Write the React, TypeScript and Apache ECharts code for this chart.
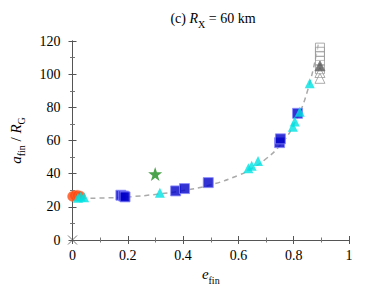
import React, { useEffect, useRef } from "react";
import * as echarts from "echarts";

// Guide curve (e_fin, a_fin/R_G)
const curveE = [0, 0.1, 0.2, 0.3, 0.4, 0.5, 0.6, 0.65, 0.7, 0.75, 0.8, 0.85, 0.89];
const curveA = [25, 25.3, 26, 27.5, 29.8, 33.3, 39, 43.3, 49, 57, 69.4, 90, 119];

const orangeE = [0.0, 0.008, 0.018, 0.028];
const orangeA = [26.3, 26.8, 27.0, 26.5];

const cyanE = [0.02, 0.03, 0.042, 0.316, 0.636, 0.648, 0.671, 0.797, 0.804, 0.822, 0.858];
const cyanA = [25.5, 26.2, 25.8, 28.5, 43.2, 44.8, 47.6, 68.3, 71.4, 77.4, 94.5];

const blueE = [0.175, 0.185, 0.19, 0.373, 0.405, 0.491, 0.749, 0.752, 0.814];
const blueA = [27.0, 26.5, 26.0, 29.6, 31.0, 34.6, 58.7, 61.0, 76.4];

const starE = [0.299];
const starA = [39.8];

const greySqE = [0.895, 0.895, 0.895, 0.895, 0.895];
const greySqA = [116, 113.5, 111, 108, 103];

const greyTriE = [0.895, 0.895];
const greyTriA = [101, 97.5];

const darkTriE = [0.895];
const darkTriA = [105];

const crossE = [0];
const crossA = [0];

const xTicks = ["0", "0.2", "0.4", "0.6", "0.8", "1"];
const yTicks = ["0", "20", "40", "60", "80", "100", "120"];

const zip = (a: number[], b: number[]) => a.map((v, i) => [v, b[i]]);

const STAR =
  "path://M50,0 L61.8,35.1 L98.9,35.1 L68.8,56.8 L80.3,91.9 L50,70.2 L19.7,91.9 L31.2,56.8 L1.1,35.1 L38.2,35.1 Z";
const CROSS = "path://M0,0 L10,10 M10,0 L0,10";

const FONT = "Liberation Serif";

export default function App() {
  const ref = useRef<HTMLDivElement>(null);
  useEffect(() => {
    if (!ref.current) return;
    const chart = echarts.init(ref.current, undefined, { renderer: "svg" });
    const axisLine = { show: true, lineStyle: { color: "#555", width: 1 } };
    const tick = { show: true, inside: true, length: 4, lineStyle: { color: "#555" } };
    const minor = { show: true, splitNumber: 2, length: 2.5, lineStyle: { color: "#777" } };
    const lab = { fontFamily: FONT, fontSize: 14, fontWeight: "normal" as const, color: "#000" };
    const sub = {
      fontFamily: FONT,
      fontSize: 10,
      fontWeight: "normal" as const,
      color: "#000",
      verticalAlign: "bottom" as const,
      lineHeight: 22,
    };
    const it = {
      fontFamily: FONT,
      fontSize: 15,
      fontStyle: "italic" as const,
      fontWeight: "normal" as const,
      color: "#000",
      lineHeight: 22,
    };
    const nm = { fontFamily: FONT, fontSize: 15, fontWeight: "normal" as const, color: "#000", lineHeight: 22 };
    const fmt = (list: string[]) => (v: number) => {
      const s = String(Math.round(v * 100) / 100);
      return list.includes(s) ? "{t|" + s + "}" : "";
    };
    chart.setOption({
      animation: false,
      textStyle: { fontFamily: FONT },
      grid: { left: 68, right: 25, top: 41, bottom: 59 },
      title: {
        text: "{n|(c) }{i|R}{s|X}{n| = 60 km}",
        left: 208,
        top: 2,
        textAlign: "center",
        textStyle: {
          fontFamily: FONT,
          fontWeight: "normal",
          rich: {
            n: { ...nm, fontSize: 14 },
            i: { ...it, fontSize: 14 },
            s: sub,
          },
        },
      },
      xAxis: [
        {
          type: "value",
          min: 0,
          max: 1,
          interval: 0.2,
          axisLine,
          axisTick: tick,
          minorTick: minor,
          splitLine: { show: false },
          axisLabel: {
            fontFamily: FONT,
            margin: 8,
            formatter: fmt(xTicks),
            rich: { t: lab },
          },
          name: "{i|e}{s|fin}",
          nameLocation: "middle",
          nameGap: 17,
          nameTextStyle: { fontFamily: FONT, rich: { i: it, s: sub } },
        },
        {
          type: "value",
          position: "top",
          min: 0,
          max: 1,
          interval: 0.2,
          axisLine,
          axisTick: tick,
          minorTick: minor,
          splitLine: { show: false },
          axisLabel: { show: false },
        },
      ],
      yAxis: [
        {
          type: "value",
          min: 0,
          max: 120,
          interval: 20,
          axisLine,
          axisTick: tick,
          minorTick: minor,
          splitLine: { show: false },
          axisLabel: {
            fontFamily: FONT,
            margin: 12,
            formatter: fmt(yTicks),
            rich: { t: lab },
          },
          name: "{i|a}{s|fin}{n| / }{i|R}{s|G}",
          nameLocation: "middle",
          nameGap: 46,
          nameRotate: 90,
          nameTextStyle: { fontFamily: FONT, rich: { i: it, s: sub, n: nm } },
        },
        {
          type: "value",
          position: "right",
          min: 0,
          max: 120,
          interval: 20,
          axisLine,
          axisTick: tick,
          minorTick: minor,
          splitLine: { show: false },
          axisLabel: { show: false },
        },
      ],
      series: [
        {
          type: "line",
          data: zip(curveE, curveA),
          smooth: true,
          showSymbol: false,
          symbol: "none",
          lineStyle: { color: "#aaa", width: 1.5, type: [5, 4] },
          z: 1,
        },
        {
          type: "scatter",
          data: zip(orangeE, orangeA),
          symbol: "circle",
          symbolSize: 10,
          itemStyle: { color: "#ff4a10", borderColor: "#ff8050", borderWidth: 0.5 },
          z: 2,
        },
        {
          type: "scatter",
          data: zip(cyanE, cyanA),
          symbol: "triangle",
          symbolSize: 10,
          itemStyle: { color: "#00e2e2" },
          z: 4,
        },
        {
          type: "scatter",
          data: zip(blueE, blueA),
          symbol: "rect",
          symbolSize: 10,
          itemStyle: { color: "#0000c8", borderColor: "#8a8aff", borderWidth: 1 },
          z: 3,
        },
        {
          type: "scatter",
          data: zip(starE, starA),
          symbol: STAR,
          symbolSize: 14,
          itemStyle: { color: "#1e8c1e" },
          z: 5,
        },
        {
          type: "scatter",
          data: zip(greySqE, greySqA),
          symbol: "rect",
          symbolSize: 9,
          itemStyle: { color: "rgba(255,255,255,0.3)", borderColor: "#999", borderWidth: 1 },
          z: 5,
        },
        {
          type: "scatter",
          data: zip(greyTriE, greyTriA),
          symbol: "triangle",
          symbolSize: 10,
          itemStyle: { color: "rgba(255,255,255,0.3)", borderColor: "#999", borderWidth: 1 },
          z: 5,
        },
        {
          type: "scatter",
          data: zip(darkTriE, darkTriA),
          symbol: "triangle",
          symbolSize: 10,
          itemStyle: { color: "#555", borderColor: "#777", borderWidth: 1 },
          z: 6,
        },
        {
          type: "scatter",
          data: zip(crossE, crossA),
          symbol: CROSS,
          symbolSize: 9,
          itemStyle: { color: "none", borderColor: "#555", borderWidth: 1 },
          z: 6,
        },
      ],
    });
    return () => chart.dispose();
  }, []);
  return <div ref={ref} style={{ width: 374, height: 299, position: "absolute", left: 0, top: 0 }} />;
}
